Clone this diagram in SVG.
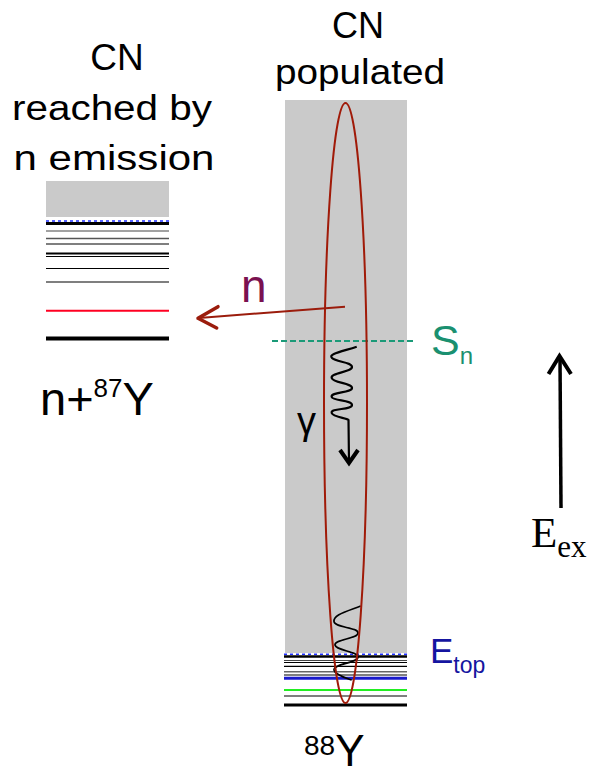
<svg xmlns="http://www.w3.org/2000/svg" width="594" height="777" viewBox="0 0 594 777">
<defs>
<style>
.t{font-family:"Liberation Sans",Arial,sans-serif;fill:#000}
.lv{fill:none}
</style>
</defs>
<rect width="594" height="777" fill="#fff"/>
<g id="left-scheme">
<rect x="46" y="181" width="123" height="36" fill="#cacaca"/>
<line class="lv" x1="46" x2="169" y1="221" y2="221" stroke="#2030ff" stroke-width="1.5" stroke-dasharray="3 3"/>
<line class="lv" x1="46" x2="169" y1="223.5" y2="223.5" stroke="#000" stroke-width="3"/>
<line class="lv" x1="46" x2="169" y1="231" y2="231" stroke="#444" stroke-width="1.2"/>
<line class="lv" x1="46" x2="169" y1="238.5" y2="238.5" stroke="#555" stroke-width="1.5"/>
<line class="lv" x1="46" x2="169" y1="244" y2="244" stroke="#000" stroke-width="1.2"/>
<line class="lv" x1="46" x2="169" y1="253.5" y2="253.5" stroke="#000" stroke-width="2"/>
<line class="lv" x1="46" x2="169" y1="256.5" y2="256.5" stroke="#000" stroke-width="1"/>
<line class="lv" x1="46" x2="169" y1="268.5" y2="268.5" stroke="#000" stroke-width="1.2"/>
<line class="lv" x1="46" x2="169" y1="282" y2="282" stroke="#555" stroke-width="1.5"/>
<line class="lv" x1="46" x2="169" y1="310.7" y2="310.7" stroke="#ff0022" stroke-width="2"/>
<line class="lv" x1="46" x2="169" y1="338.5" y2="338.5" stroke="#000" stroke-width="4"/>
</g>
<g id="main-scheme">
<rect x="285" y="100" width="122" height="553" fill="#cacaca"/>
<line class="lv" x1="284" x2="407" y1="654.3" y2="654.3" stroke="#2030ff" stroke-width="1.5" stroke-dasharray="3 3"/>
<line class="lv" x1="284" x2="407" y1="656.5" y2="656.5" stroke="#000" stroke-width="2.5"/>
<line class="lv" x1="284" x2="407" y1="660.5" y2="660.5" stroke="#444" stroke-width="1.2"/>
<line class="lv" x1="284" x2="407" y1="662.5" y2="662.5" stroke="#000" stroke-width="1"/>
<line class="lv" x1="284" x2="407" y1="666.3" y2="666.3" stroke="#000" stroke-width="1.2"/>
<line class="lv" x1="284" x2="407" y1="671.7" y2="671.7" stroke="#666" stroke-width="1.5"/>
<line class="lv" x1="284" x2="407" y1="675" y2="675" stroke="#000" stroke-width="1.2"/>
<line class="lv" x1="284" x2="407" y1="678.3" y2="678.3" stroke="#1a1acc" stroke-width="3"/>
<line class="lv" x1="284" x2="407" y1="690" y2="690" stroke="#22ee22" stroke-width="2"/>
<line class="lv" x1="284" x2="407" y1="696" y2="696" stroke="#000" stroke-width="1.2"/>
<line class="lv" x1="284" x2="407" y1="705" y2="705" stroke="#000" stroke-width="3"/>
</g>
<g id="sn-line">
<line x1="272" x2="416" y1="341" y2="341" stroke="#1a9a78" stroke-width="2" stroke-dasharray="6 3"/>
</g>
<g id="connectors">
<path id="gamma-wave" d="M356.7,346.7 C340,352 328,354 332,358 C336,362 352,362 352,367 C352,372 330,373 331.7,378 C333,383 352,383 352,388 C352,393 330,392 331.7,397 C333,401 352,400 352,405 C352,410 330,408 331.7,413 C333,417 346,418 348.5,420 L349,462" fill="none" stroke="#000" stroke-width="2.2"/>
<polyline points="340,450 349,463 358,450" fill="none" stroke="#000" stroke-width="4" stroke-linejoin="miter"/>
<path id="gamma-wave-bottom" d="M360.7,606 C345,612 333,615 334,621.7 C335,628 358,627 358,633 C358,639 334,639 335,645 C336,651 358,651 358,657 C358,663 333,664 334,670 C335,675 346,678 351.7,680" fill="none" stroke="#000" stroke-width="1.7"/>
<ellipse cx="345.5" cy="403" rx="21.5" ry="300" fill="none" stroke="#a01a08" stroke-width="2"/>
<line x1="345" y1="306.7" x2="199" y2="318" stroke="#9b1c0c" stroke-width="2"/>
<polyline points="218,306.7 198,318.3 216.7,328" fill="none" stroke="#9b1c0c" stroke-width="3.5" stroke-linecap="round" stroke-linejoin="round"/>
<line x1="561" y1="508" x2="560" y2="358" stroke="#000" stroke-width="3.5"/>
<polyline points="548.5,374 559.5,356 571,374" fill="none" stroke="#000" stroke-width="4" stroke-linejoin="miter"/>
</g>
<g id="labels">
<text class="t" x="117" y="70" font-size="37" text-anchor="middle">CN</text>
<text class="t" x="112" y="120" font-size="35" text-anchor="middle" textLength="200" lengthAdjust="spacingAndGlyphs">reached by</text>
<text class="t" x="114" y="170" font-size="35" text-anchor="middle" textLength="201" lengthAdjust="spacingAndGlyphs">n emission</text>
<text class="t" x="358" y="38" font-size="36" text-anchor="middle">CN</text>
<text class="t" x="360" y="84" font-size="35" text-anchor="middle" textLength="170" lengthAdjust="spacingAndGlyphs">populated</text>
<text class="t" x="40" y="415" font-size="47">n+<tspan font-size="26" dy="-18">87</tspan><tspan dy="18">Y</tspan></text>
<text class="t" x="304" y="755" font-size="28">88<tspan font-size="44" dy="11">Y</tspan></text>
<text class="t" x="241" y="301.7" font-size="46" style="fill:#7a1150">n</text>
<text class="t" x="297" y="434" font-size="38">γ</text>
<text class="t" x="431" y="355" font-size="43" style="fill:#1a9070">S<tspan font-size="24" dy="9">n</tspan></text>
<text class="t" x="430" y="663.3" font-size="35" style="fill:#1515a0">E<tspan font-size="23" dy="10">top</tspan></text>
<text x="531" y="546.7" font-size="43" style="font-family:'Liberation Serif','Times New Roman',serif">E<tspan font-size="31" dy="10">ex</tspan></text>
</g>
</svg>
